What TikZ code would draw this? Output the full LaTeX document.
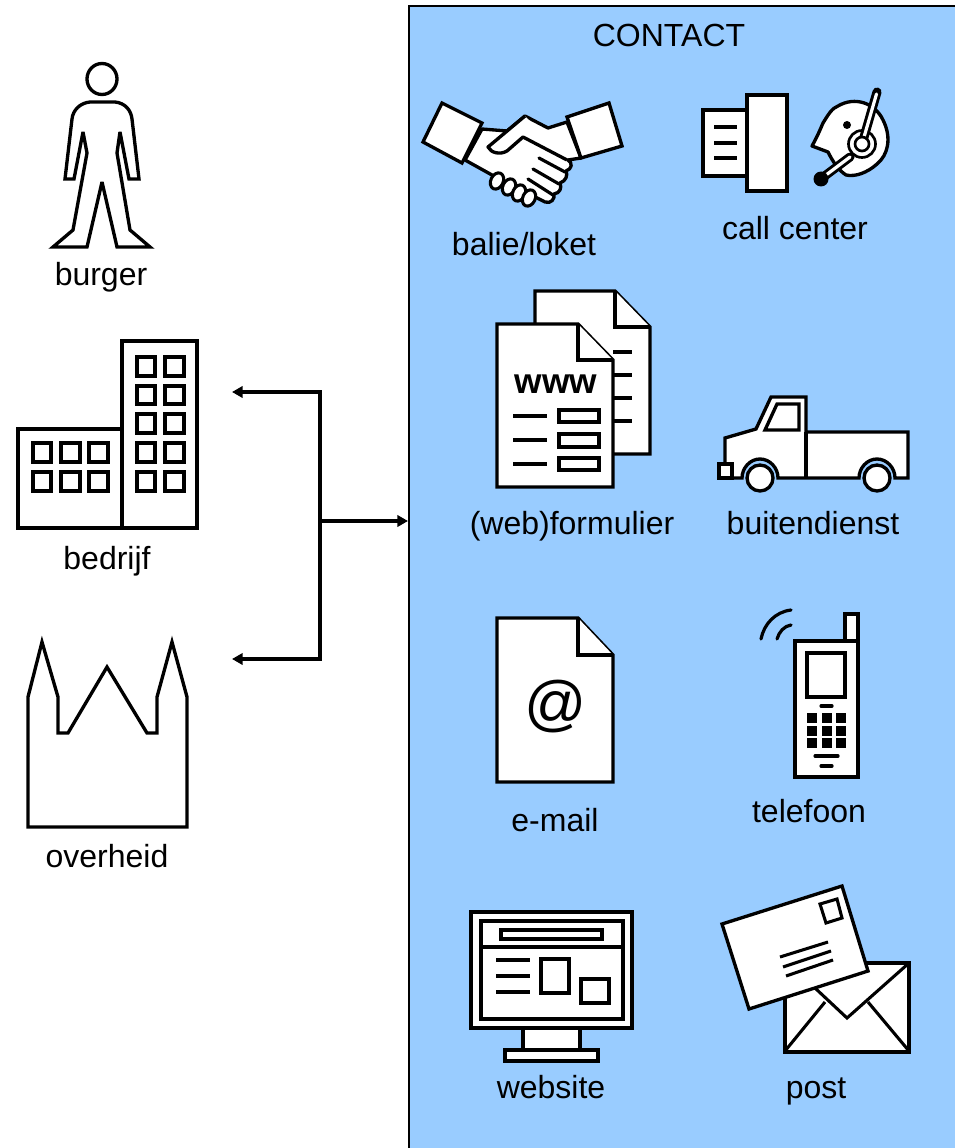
\documentclass[tikz,border=0pt]{standalone}
\usepackage{fontspec}
\setmainfont{Liberation Sans}
\usetikzlibrary{arrows.meta}
\definecolor{panelblue}{HTML}{99CCFF}
\tikzset{
  icon/.style={draw=black,fill=white,line width=2.5pt,line join=miter,miter limit=3},
  thinicon/.style={draw=black,fill=white,line width=2.3pt},
  stroke/.style={draw=black,line width=2.3pt},
  roundstroke/.style={draw=black,line width=2.4pt,line cap=round},
  label/.style={inner sep=0pt,text=black,font=\fontsize{24pt}{28pt}\selectfont,anchor=center},
  panel/.style={draw=black,fill=panelblue,line width=1.5pt,inner sep=0pt,minimum width=410pt,minimum height=860pt},
  link/.style={draw=black,line width=2.6pt},
  linkarrow/.style={link,-{Triangle[length=8pt,width=8.5pt]}}
}
\begin{document}
\begin{tikzpicture}[x=0.75pt,y=-0.75pt]
\path[use as bounding box,clip] (0,0) rectangle (955,1148);
\fill[white] (0,0) rectangle (955,1148);
% panel
\node[panel,anchor=north west] (panel) at (408,5) {};
\node[label] (contact) at (669,35) {CONTACT};

% connector
\coordinate (hub) at (320,521);
\coordinate (bedrijfIn) at (232,392);
\coordinate (overheidIn) at (232,659);
\coordinate (hubTop) at (320,392);
\coordinate (hubBot) at (320,659);
\draw[linkarrow] (hubTop) -- (bedrijfIn);
\draw[linkarrow] (hubBot) -- (overheidIn);
\draw[link,line cap=rect] (hubTop) -- (hubBot);
\draw[linkarrow] (hub) -- (hub -| panel.west);

% burger
\draw[icon] (102,79) ellipse [x radius=15,y radius=15.5];
\draw[icon]
  (90,102) -- (115,102) .. controls (125,103) and (131,110) .. (132,119)
  -- (139,179) -- (129,179) -- (120,132) -- (117,153) -- (130,230) -- (150,247)
  -- (117,247) -- (102,182) -- (87,247) -- (53,247) -- (73,230) -- (87,153)
  -- (83,132) -- (74,179) -- (65,179) -- (72,119)
  .. controls (73,110) and (80,103) .. (90,102) -- cycle;
\node[label] (burger) at (101,277) {burger};

% bedrijf
\draw[icon] (122,341) rectangle (197,528);
\draw[icon] (18,429) rectangle (122,528);
\foreach \xa/\xb in {137/155,165/184}
  \foreach \ya/\yb in {357/376,386/404,414/433,443/462,472/491}
    \draw[icon] (\xa,\ya) rectangle (\xb,\yb);
\foreach \xa/\xb in {33/51,61/80,89/108}
  \foreach \ya/\yb in {443/462,472/491}
    \draw[icon] (\xa,\ya) rectangle (\xb,\yb);
\node[label] (bedrijf) at (107,561) {bedrijf};

% overheid
\draw[icon,miter limit=10] (28,827) -- (28,697) -- (42,642) -- (58,697) -- (58,733) -- (68,733)
  -- (107,667) -- (147,733) -- (157,733) -- (157,697) -- (172,642) -- (187,697)
  -- (187,827) -- cycle;
\node[label] (overheid) at (107,856) {overheid};

% handshake
\draw[icon,line join=round]
  (482,129) -- (507,131) -- (525,116) -- (548,128) -- (567,122) -- (581,158) -- (568,160)
  .. controls (573,163) and (572,169) .. (566,171)
  .. controls (568,175) and (566,181) .. (560,183)
  .. controls (562,188) and (560,193) .. (554,194)
  .. controls (555,199) and (551,204) .. (545,202)
  -- (492,175) -- (465,160) -- cycle;
\draw[icon,line join=round]
  (525,116) -- (488,147) .. controls (491,153) and (500,155) .. (507,151)
  -- (523,137) -- (567,160);
\draw[roundstroke] (539,158) -- (565,172);
\draw[roundstroke] (533,169) -- (559,184);
\draw[roundstroke] (528,179) -- (553,195);
\draw[thinicon,rotate around={-25:(497,181)}] (497,181) ellipse [x radius=6.2,y radius=8.5];
\draw[thinicon,rotate around={-25:(509,187)}] (509,187) ellipse [x radius=6.2,y radius=8.5];
\draw[thinicon,rotate around={-25:(519,193)}] (519,193) ellipse [x radius=6.2,y radius=8.5];
\draw[thinicon,rotate around={-25:(529,198)}] (529,198) ellipse [x radius=6.2,y radius=8.5];
\draw[icon] (442,103) -- (482,123) -- (462,163) -- (423,142) -- cycle;
\draw[icon] (567,117) -- (609,103) -- (622,146) -- (581,158) -- cycle;
\node[label] (balie) at (524,244) {balie/loket};

% call center
\draw[icon] (703,110) rectangle (747,176);
\draw[icon] (747,95) rectangle (787,191);
\draw[stroke] (714,127) -- (737,127) (714,143) -- (737,143) (714,158) -- (737,158);
\draw[icon,line join=round]
  (812,146) .. controls (817,137) and (820,130) .. (823,123)
  .. controls (828,115) and (832,108) .. (838,106)
  .. controls (855,96) and (875,103) .. (883,120)
  .. controls (892,138) and (888,155) .. (877,164)
  .. controls (867,173) and (855,177) .. (846,175)
  .. controls (838,170) and (832,160) .. (828,152) -- cycle;
\fill[black] (847,125) circle [radius=4];
\draw[draw=black,line width=6.8pt,line cap=round] (850,157) -- (822,178);
\draw[draw=white,line width=2.4pt,line cap=round] (850,157) -- (826,175);
\fill[black] (821,179) circle [radius=7.5];
\draw[thinicon,line width=2pt] (862,144) circle [radius=13.5];
\draw[draw=black,line width=6.8pt,line cap=round] (862,144) -- (877,92);
\draw[draw=white,line width=2.4pt,line cap=round] (862,144) -- (876.5,94);
\draw[thinicon,line width=2pt] (862,144) circle [radius=7];
\node[label] (callcenter) at (795,228) {call center};

% webformulier
\draw[icon] (535,291) -- (615,291) -- (650,327) -- (650,454) -- (535,454) -- cycle;
\draw[icon] (615,291) -- (615,327) -- (650,327);
\draw[stroke] (613,352) -- (632,352) (613,375) -- (632,375) (613,398) -- (632,398) (613,421) -- (632,421);
\draw[icon] (497,324) -- (578,324) -- (613,360) -- (613,487) -- (497,487) -- cycle;
\draw[icon] (578,324) -- (578,360) -- (613,360);
\node[inner sep=0pt,font=\bfseries\fontsize{26.5pt}{30pt}\selectfont] (www) at (556,384) {www};
\draw[stroke] (513,416) -- (547,416) (513,440) -- (547,440) (513,464) -- (547,464);
\draw[thinicon] (559,410) rectangle (599,422);
\draw[thinicon] (559,434) rectangle (599,447);
\draw[thinicon] (559,458) rectangle (599,470);
\node[label] (webform) at (572,526) {(web)formulier};

% buitendienst
\draw[icon]
  (725,463) -- (725,438) -- (756,429) -- (771,397) -- (806,397) -- (806,432) -- (908,432) -- (908,478)
  -- (895,478) .. controls (895,468) and (887,459) .. (877,459) .. controls (867,459) and (859,468) .. (859,478)
  -- (778,478) .. controls (778,468) and (770,459) .. (760,459) .. controls (750,459) and (742,468) .. (742,478)
  -- (725,478) -- cycle;
\draw[icon] (719,464) rectangle (732,478);
\draw[icon] (777,404) -- (799,404) -- (799,430) -- (765,430) -- cycle;
\draw[stroke] (806,432) -- (806,478);
\draw[icon] (760,478) circle [radius=13];
\draw[icon] (877,478) circle [radius=13];
\node[label] (buiten) at (813,523) {buitendienst};

% e-mail
\draw[icon] (497,618) -- (578,618) -- (613,655) -- (613,782) -- (497,782) -- cycle;
\draw[icon] (578,618) -- (578,655) -- (613,655);
\node[inner sep=0pt,font=\fontsize{46pt}{50pt}\selectfont] (at) at (556,707) {@};
\node[label] (email) at (555,820) {e-mail};

% telefoon
\draw[roundstroke] (761,639) .. controls (764,624) and (775,612) .. (791,610);
\draw[roundstroke] (777,639) .. controls (779,632) and (784,626) .. (791,625);
\draw[icon] (845,614) rectangle (858,641);
\draw[icon] (795,641) rectangle (858,777);
\draw[icon] (807,653) rectangle (845,697);
\draw[roundstroke] (821,706) -- (832,706) (815,756) -- (838,756) (821,766) -- (832,766);
\foreach \kx in {812,827,841}
  \foreach \ky in {718,731,743}
    \fill[black] (\kx-5,\ky-5) rectangle (\kx+5,\ky+5);
\node[label] (telefoon) at (809,811) {telefoon};

% website
\draw[icon] (523,1028) rectangle (580,1050);
\draw[icon] (505,1050) rectangle (598,1061);
\draw[icon] (471,912) rectangle (632,1028);
\draw[icon] (481,921) rectangle (623,1019);
\draw[stroke] (481,947) -- (623,947);
\draw[thinicon] (501,930) rectangle (602,939);
\draw[stroke] (496,960) -- (530,960) (496,976) -- (530,976) (496,992) -- (530,992);
\draw[thinicon] (541,959) rectangle (569,993);
\draw[thinicon] (581,979) rectangle (609,1003);
\node[label] (website) at (551,1087) {website};

% post
\draw[icon] (785,963) rectangle (909,1052);
\draw[stroke] (909,963) -- (847,1018) -- (815,988);
\draw[stroke] (825,1002) -- (785,1051);
\draw[stroke] (868,1002) -- (909,1051);
\draw[icon] (722,924) -- (842,886) -- (868,971) -- (749,1009) -- cycle;
\draw[thinicon] (820,904) -- (837,899) -- (842,918) -- (826,923) -- cycle;
\draw[stroke] (780,957) -- (828,942) (783,967) -- (831,951) (786,976) -- (833,960);
\node[label] (post) at (816,1091) {post};
\end{tikzpicture}
\end{document}
